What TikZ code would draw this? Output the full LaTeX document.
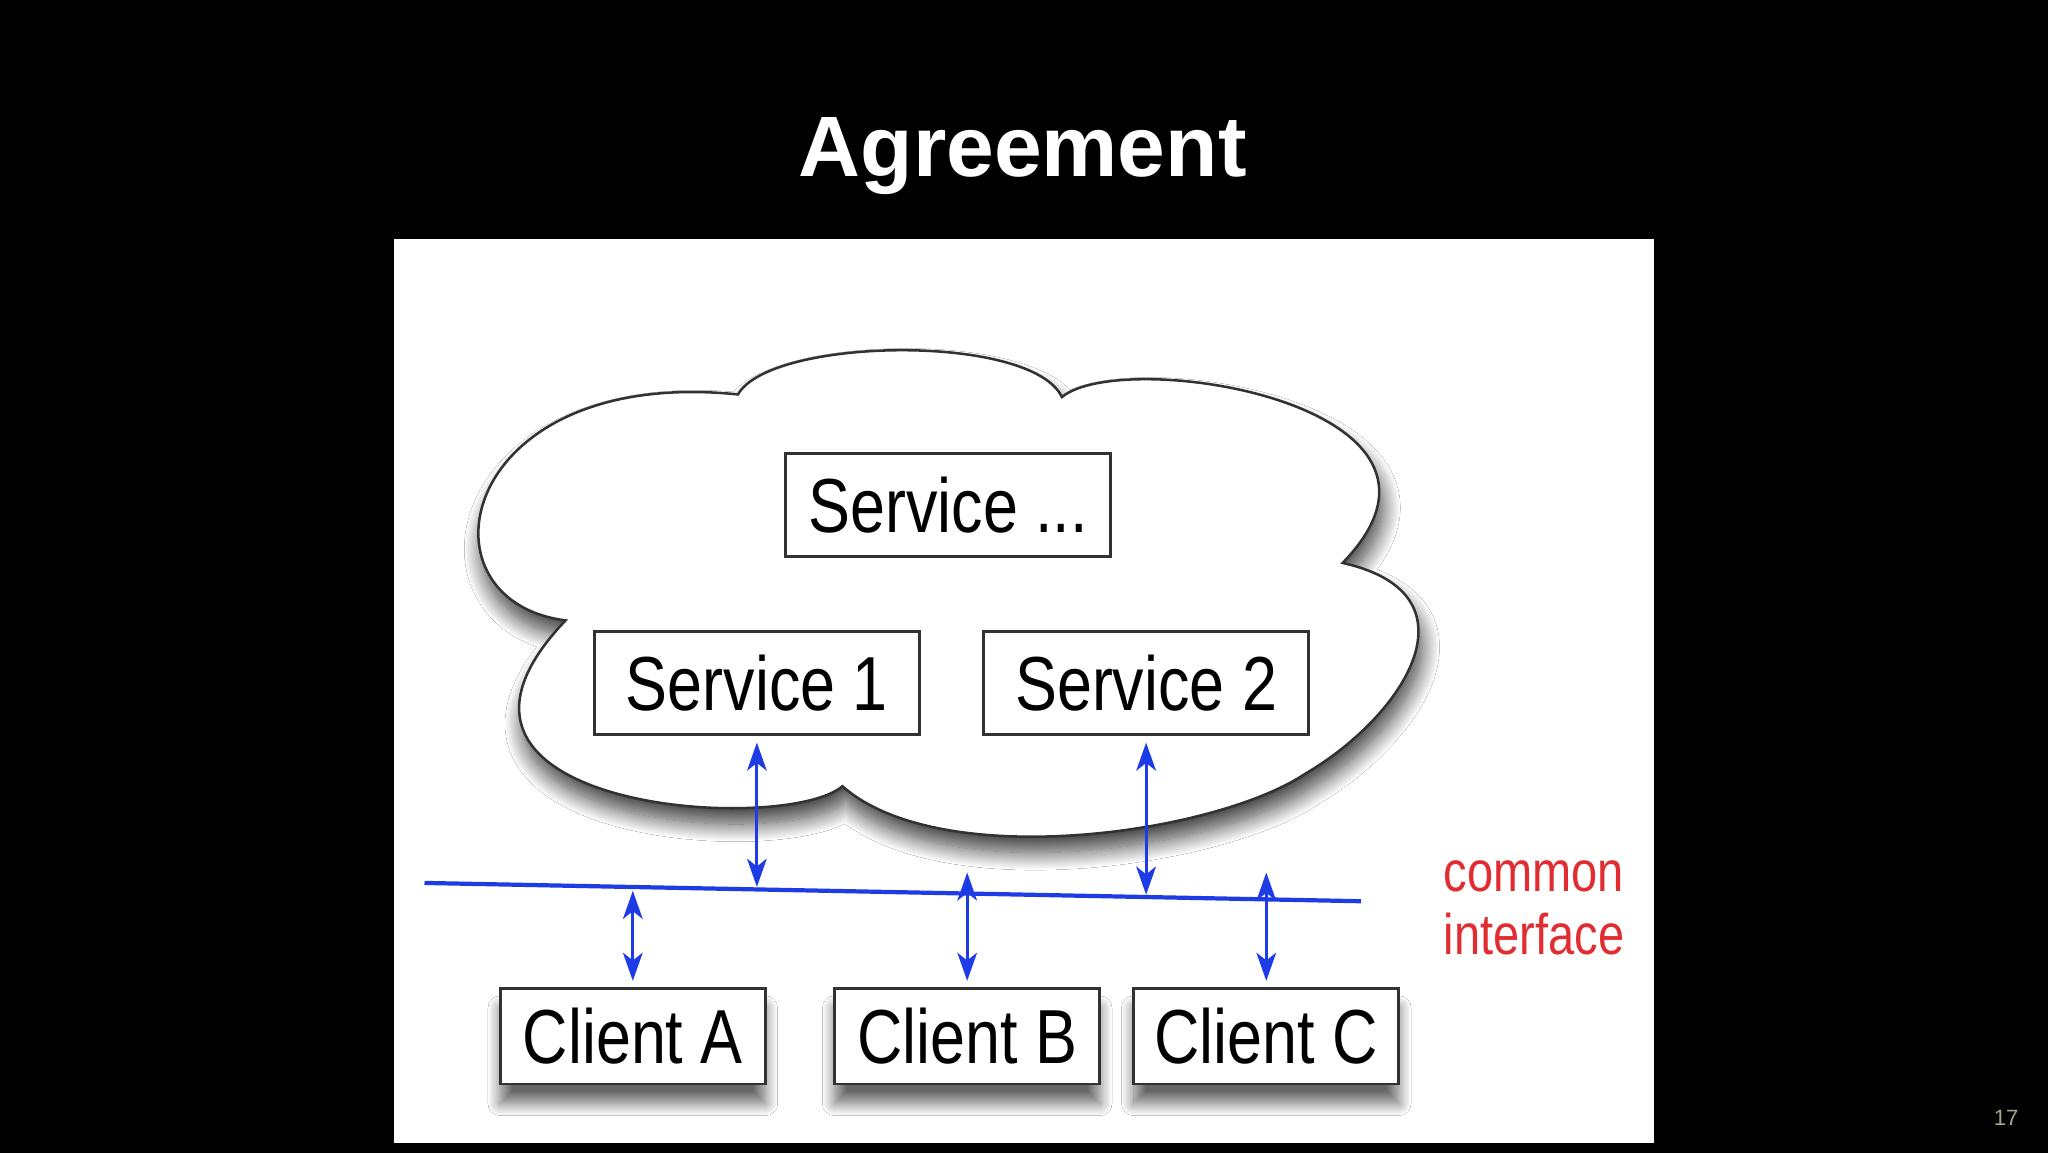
\documentclass[tikz,border=0pt]{standalone}
\usepackage{fontspec}
\setmainfont{Liberation Sans}
\usepackage{graphicx}
\usetikzlibrary{arrows.meta,shadows.blur}
\definecolor{ifblue}{RGB}{30,60,230}
\definecolor{ifred}{RGB}{225,45,50}
\definecolor{boxline}{RGB}{50,50,50}
\definecolor{pagenum}{RGB}{165,165,140}
\newcommand{\cond}[1]{\scalebox{0.82}[1]{#1}}
\begin{document}
\begin{tikzpicture}[x=0.013061cm,y=-0.013061cm,
  svcbox/.style={draw=boxline,fill=white,line width=0.8pt,minimum width=3.252cm,minimum height=1.032cm,inner sep=0pt,font=\fontsize{21.8}{26}\selectfont},
  clibox/.style={svcbox,minimum width=2.651cm,minimum height=0.953cm,blur shadow={shadow xshift=0pt,shadow yshift=-5.5pt,shadow blur radius=3.5pt,shadow opacity=60,shadow blur steps=15}},
  biarrow/.style={draw=ifblue,line width=0.8pt,{Stealth[length=8pt,width=5.6pt,inset=2.2pt]}-{Stealth[length=8pt,width=5.6pt,inset=2.2pt]}},
  cloudstyle/.style={draw=boxline,line width=0.72pt,fill=white,blur shadow={shadow xshift=1pt,shadow yshift=-4.5pt,shadow blur radius=5pt,shadow opacity=75,shadow blur steps=20}},
]
\useasboundingbox (0,0) rectangle (1568,883);
\fill[black] (0,0) rectangle (1568,883);
\fill[white] (302,183) rectangle (1266,875);
\node[text=white,font=\fontsize{24.4}{29}\selectfont\bfseries,anchor=base,inner sep=0pt] (title) at (783,135) {Agreement};
\path[cloudstyle] (565,302) .. controls (590,258) and (790,255) .. (813,304)
  .. controls (860,265) and (1145,310) .. (1028,431)
  .. controls (1135,455) and (1075,548) .. (1000,592)
  .. controls (930,639) and (720,668) .. (645,602)
  .. controls (600,640) and (295,620) .. (433,475)
  .. controls (315,460) and (350,280) .. (565,302) -- cycle;
\node[svcbox] (sd) at (726,386.5) {\cond{Service ...}};
\node[svcbox] (s1) at (579.5,523) {\cond{Service 1}};
\node[svcbox] (s2) at (877.5,523) {\cond{Service 2}};
\node[clibox] (ca) at (484.5,793.5) {\cond{Client A}};
\node[clibox] (cb) at (740.5,793.5) {\cond{Client B}};
\node[clibox] (cc) at (969.5,793.5) {\cond{Client C}};
\coordinate (L1) at (325,676);
\coordinate (L2) at (1042,690);
\draw[ifblue,line width=1.2pt] (L1) -- (L2);
\coordinate (s1e) at (579.5,679);
\coordinate (s2e) at (877.5,685);
\coordinate (cae) at (484.5,682);
\coordinate (cbe) at (740.5,668);
\coordinate (cce) at (969.5,668);
\draw[biarrow,shorten <=0.065cm] (s1.south) -- (s1e);
\draw[biarrow,shorten <=0.065cm] (s2.south) -- (s2e);
\draw[biarrow,shorten >=0.065cm] (cae) -- (ca.north);
\draw[biarrow,shorten >=0.065cm] (cbe) -- (cb.north);
\draw[biarrow,shorten >=0.065cm] (cce) -- (cc.north);
\node[text=ifred,font=\fontsize{16.3}{17.9}\selectfont,align=left,anchor=west,inner sep=0pt] (ci) at (1105,695) {\cond{common}\\\cond{interface}};
\node[text=pagenum,font=\fontsize{6.3}{8}\selectfont,inner sep=0pt] (pg) at (1536,856) {17};
\end{tikzpicture}
\end{document}
